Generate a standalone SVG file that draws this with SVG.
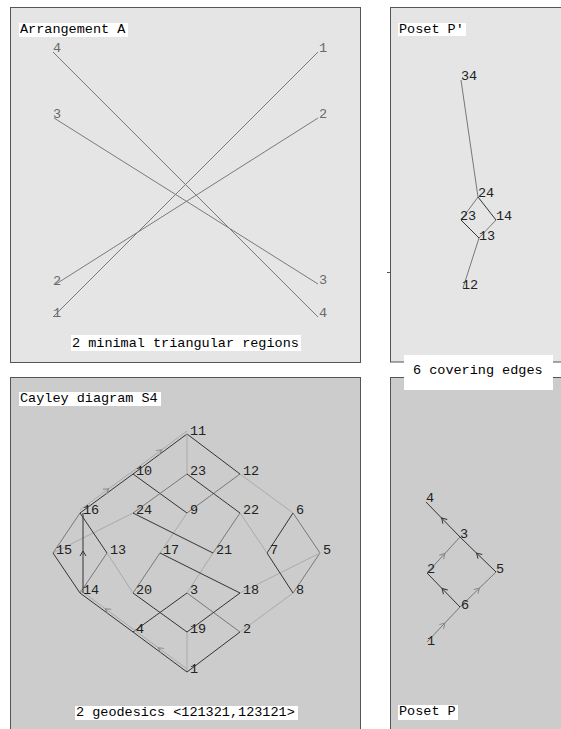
<svg xmlns="http://www.w3.org/2000/svg" width="561" height="729" viewBox="0 0 561 729">
<defs>
<style>
.pl{fill:#e5e5e5;stroke:#555;stroke-width:1}
.pd{fill:#cccccc;stroke:#555;stroke-width:1}
.box{fill:#ffffff}
.t{font-family:"Liberation Mono","DejaVu Sans Mono",monospace;font-size:13.5px;fill:#000}
.n{font-family:"Liberation Mono","DejaVu Sans Mono",monospace;font-size:13.5px;fill:#222}
.g{font-family:"Liberation Mono","DejaVu Sans Mono",monospace;font-size:13.5px;fill:#6a6a6a}
.e{fill:none;stroke-width:1}
.d{stroke:#333}
.m{stroke:#777}
.l{stroke:#aaa}
</style>
<marker id="aD" viewBox="-5 -5 10 10" markerWidth="10" markerHeight="10" refX="0" refY="0" orient="auto" markerUnits="userSpaceOnUse"><path d="M-3,-3 L2,0 L-3,3" fill="none" stroke="#333" stroke-width="1"/></marker>
<marker id="aL" viewBox="-5 -5 10 10" markerWidth="10" markerHeight="10" refX="0" refY="0" orient="auto" markerUnits="userSpaceOnUse"><path d="M-3,-3 L2,0 L-3,3" fill="none" stroke="#888" stroke-width="1"/></marker>
</defs>

<!-- Panels -->
<g id="panelA">
<rect class="pl" x="10.5" y="7.5" width="350" height="355"/>
<rect class="box" x="19" y="23" width="109" height="14"/>
<text class="t" x="20" y="33">Arrangement A</text>
</g>
<g id="panelPprime">
<rect class="pl" x="390.5" y="7.5" width="200" height="354.5"/>
<line x1="387" y1="272.5" x2="391" y2="272.5" stroke="#555"/>
<rect class="box" x="398" y="23" width="68" height="13"/>
<text class="t" x="399" y="33">Poset P′</text>
</g>
<g id="panelCayley">
<rect class="pd" x="10.5" y="377.5" width="350" height="400"/>
<rect class="box" x="19" y="392" width="142" height="14"/>
<text class="t" x="20" y="402">Cayley diagram S4</text>
</g>
<g id="panelP">
<rect class="pd" x="390.5" y="377.5" width="200" height="400"/>
<rect class="box" x="398" y="705" width="60" height="15"/>
<text class="t" x="399" y="715">Poset P</text>
</g>

<!-- Arrangement A -->
<g id="arrangement-lines" class="e" stroke="#7a7a7a">
<line x1="53" y1="317" x2="318" y2="52"/>
<line x1="56" y1="284" x2="318" y2="118"/>
<line x1="54" y1="118" x2="318" y2="284"/>
<line x1="53" y1="52" x2="318" y2="317"/>
</g>
<g id="arrangement-labels">
<text class="g" x="53" y="52">4</text>
<text class="g" x="53" y="118">3</text>
<text class="g" x="53" y="285">2</text>
<text class="g" x="53" y="317">1</text>
<text class="g" x="319" y="52">1</text>
<text class="g" x="319" y="118">2</text>
<text class="g" x="319" y="284">3</text>
<text class="g" x="319" y="317">4</text>
</g>
<g id="label-regions">
<rect class="box" x="71" y="335" width="230" height="16"/>
<text class="t" x="72" y="347">2 minimal triangular regions</text>
</g>

<!-- Poset P' -->
<g id="pposet-edges" class="e">
<line class="m" x1="461" y1="80" x2="478" y2="197" stroke="#666"/>
<line class="m" x1="478" y1="197" x2="461" y2="220"/>
<line class="d" x1="478" y1="197" x2="496" y2="220"/>
<line class="d" x1="461" y1="220" x2="479" y2="238"/>
<line class="m" x1="496" y1="220" x2="479" y2="238"/>
<line class="m" x1="479" y1="238" x2="463" y2="288"/>
</g>
<g id="pp34"><text class="n" x="461" y="80">34</text></g>
<g id="pp24"><text class="n" x="478" y="197">24</text></g>
<g id="pp23"><text class="n" x="460" y="220">23</text></g>
<g id="pp14"><text class="n" x="496" y="220">14</text></g>
<g id="pp13"><text class="n" x="479" y="240">13</text></g>
<g id="pp12"><text class="n" x="462" y="289">12</text></g>

<g id="label-covering">
<rect class="box" x="404" y="355" width="149" height="35"/>
<text class="t" x="413" y="374">6 covering edges</text>
</g>

<!-- Cayley diagram -->
<g id="cayley-edges" class="e">
<line class="l" x1="187" y1="672" x2="187" y2="632"/>
<line class="d" x1="187" y1="672" x2="240" y2="632"/>
<line class="d" x1="187" y1="672" x2="133" y2="632"/>
<line class="m" x1="240" y1="632" x2="187" y2="593"/>
<line class="l" x1="240" y1="632" x2="293" y2="593"/>
<line class="d" x1="133" y1="632" x2="187" y2="593"/>
<line class="d" x1="133" y1="632" x2="80" y2="593"/>
<line class="l" x1="187" y1="593" x2="213" y2="553"/>
<line class="m" x1="320" y1="553" x2="293" y2="513"/>
<line class="m" x1="320" y1="553" x2="293" y2="593" stroke="#555"/>
<line class="l" x1="320" y1="553" x2="240" y2="593"/>
<line class="d" x1="267" y1="553" x2="293" y2="513"/>
<line class="d" x1="267" y1="553" x2="293" y2="593"/>
<line class="l" x1="267" y1="553" x2="240" y2="513"/>
<line class="l" x1="293" y1="513" x2="240" y2="474"/>
<line class="m" x1="187" y1="513" x2="240" y2="474"/>
<line class="d" x1="187" y1="513" x2="133" y2="474"/>
<line class="l" x1="187" y1="513" x2="160" y2="553"/>
<line class="d" x1="133" y1="474" x2="80" y2="513"/>
<line class="d" x1="133" y1="474" x2="187" y2="434"/>
<line class="d" x1="187" y1="434" x2="240" y2="474"/>
<line class="l" x1="187" y1="434" x2="187" y2="474"/>
<line class="d" x1="187" y1="474" x2="240" y2="513"/>
<line class="m" x1="187" y1="474" x2="133" y2="513"/>
<line class="m" x1="240" y1="513" x2="213" y2="553"/>
<line class="d" x1="133" y1="513" x2="213" y2="553"/>
<line class="l" x1="133" y1="513" x2="53" y2="553"/>
<line class="m" x1="53" y1="553" x2="80" y2="513"/>
<line class="d" x1="53" y1="553" x2="80" y2="593"/>
<line class="d" x1="80" y1="513" x2="107" y2="553"/>
<line class="m" x1="107" y1="553" x2="80" y2="593"/>
<line class="l" x1="107" y1="553" x2="133" y2="593"/>
<line class="m" x1="160" y1="553" x2="133" y2="593" stroke="#555"/>
<line class="d" x1="160" y1="553" x2="240" y2="593"/>
<line class="d" x1="133" y1="593" x2="187" y2="632" stroke="#555"/>
<line class="d" x1="240" y1="593" x2="187" y2="632"/>
</g>
<g id="geodesics" class="e">
<path class="l" d="M187,669 L160,649 L133,629" marker-mid="url(#aL)"/>
<path class="l" d="M133,629 L107,610 L80,590" marker-mid="url(#aL)"/>
<path class="d" d="M83,593 L83,553 L83,513" marker-mid="url(#aD)"/>
<path class="l" d="M80,510 L107,490 L133,471" marker-mid="url(#aL)"/>
<path class="l" d="M133,471 L160,451 L187,431" marker-mid="url(#aL)"/>
</g>
<g id="c1"><text class="n" x="190" y="673">1</text></g>
<g id="c2"><text class="n" x="243" y="633">2</text></g>
<g id="c3"><text class="n" x="190" y="594">3</text></g>
<g id="c4"><text class="n" x="136" y="633">4</text></g>
<g id="c5"><text class="n" x="323" y="554">5</text></g>
<g id="c6"><text class="n" x="296" y="514">6</text></g>
<g id="c7"><text class="n" x="270" y="554">7</text></g>
<g id="c8"><text class="n" x="296" y="594">8</text></g>
<g id="c9"><text class="n" x="190" y="514">9</text></g>
<g id="c10"><text class="n" x="136" y="475">10</text></g>
<g id="c11"><text class="n" x="190" y="435">11</text></g>
<g id="c12"><text class="n" x="243" y="475">12</text></g>
<g id="c13"><text class="n" x="110" y="554">13</text></g>
<g id="c14"><text class="n" x="83" y="594">14</text></g>
<g id="c15"><text class="n" x="56" y="554">15</text></g>
<g id="c16"><text class="n" x="83" y="514">16</text></g>
<g id="c17"><text class="n" x="163" y="554">17</text></g>
<g id="c18"><text class="n" x="243" y="594">18</text></g>
<g id="c19"><text class="n" x="190" y="633">19</text></g>
<g id="c20"><text class="n" x="136" y="594">20</text></g>
<g id="c21"><text class="n" x="216" y="554">21</text></g>
<g id="c22"><text class="n" x="243" y="514">22</text></g>
<g id="c23"><text class="n" x="190" y="475">23</text></g>
<g id="c24"><text class="n" x="136" y="514">24</text></g>
<g id="label-geodesics">
<rect class="box" x="75" y="706" width="223" height="14"/>
<text class="t" x="76" y="716">2 geodesics &lt;121321,123121&gt;</text>
</g>

<!-- Poset P -->
<g id="poset-edges" class="e">
<path class="m" d="M427,642 L443.5,624.5 L460,607" marker-mid="url(#aL)"/>
<path class="d" d="M460,607 L443.5,590 L427,573" marker-mid="url(#aD)"/>
<path class="m" d="M460,607 L478,589.5 L496,572" marker-mid="url(#aL)"/>
<path class="m" d="M427,573 L443.5,555 L460,537" marker-mid="url(#aL)"/>
<path class="d" d="M496,572 L478,554.5 L460,537" marker-mid="url(#aD)"/>
<path class="d" d="M460,537 L443,519.5 L426,502" marker-mid="url(#aD)"/>
</g>
<g id="p1"><text class="n" x="427" y="645">1</text></g>
<g id="p2"><text class="n" x="427" y="573">2</text></g>
<g id="p3"><text class="n" x="460" y="538">3</text></g>
<g id="p4"><text class="n" x="426" y="502">4</text></g>
<g id="p5"><text class="n" x="496" y="573">5</text></g>
<g id="p6"><text class="n" x="461" y="609">6</text></g>
</svg>
